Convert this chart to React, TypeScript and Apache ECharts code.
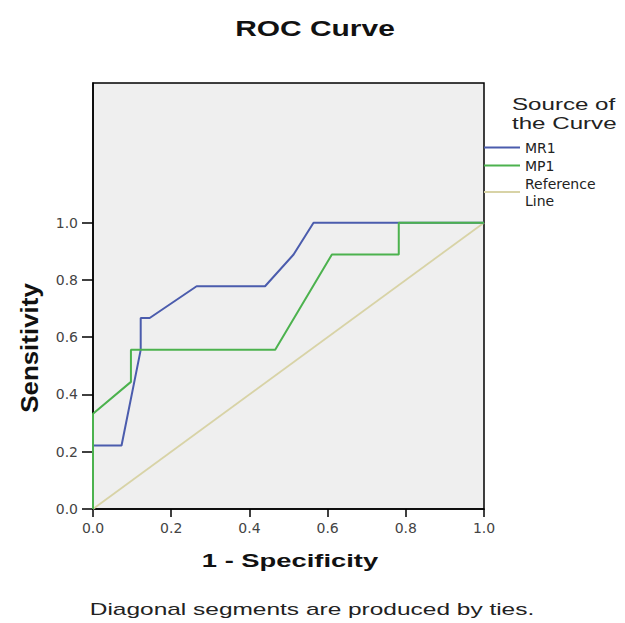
import React, { useEffect, useRef } from "react";
import * as echarts from "echarts";

// ---- data ----
const tickValues = [0, 0.2, 0.4, 0.6, 0.8, 1.0];
const seriesNames = ["MR1", "MP1", "Reference Line"];

const mr1X = [0, 0, 0.073, 0.122, 0.122, 0.145, 0.265, 0.44, 0.513, 0.564, 1];
const mr1Y = [0, 0.222, 0.222, 0.556, 0.667, 0.667, 0.778, 0.778, 0.889, 1, 1];

const mp1X = [0, 0, 0.097, 0.097, 0.466, 0.611, 0.782, 0.782, 1];
const mp1Y = [0, 0.333, 0.444, 0.556, 0.556, 0.889, 0.889, 1, 1];

const refX = [0, 1];
const refY = [0, 1];

const titleText = "ROC Curve";
const xTitle = "1 - Specificity";
const yTitle = "Sensitivity";
const legendTitle = "Source of\nthe Curve";
const footnote = "Diagonal segments are produced by ties.";

const pairs = (xs: number[], ys: number[]) => xs.map((x, i) => [x, ys[i]]);

const ARIAL = '"Liberation Sans", Arial, sans-serif';

export default function App() {
  const ref = useRef<HTMLDivElement>(null);

  useEffect(() => {
    if (!ref.current) return;
    const chart = echarts.init(ref.current, null, { renderer: "svg" });
    const colors = ["#d8d3a6", "#4b5cad", "#4cb24e"];
    chart.setOption({
      animation: false,
      backgroundColor: "#ffffff",
      grid: {
        left: 93,
        right: 141,
        top: 83,
        bottom: 114,
        show: true,
        backgroundColor: "#efefef",
        borderColor: "#000",
        borderWidth: 1.5,
        containLabel: false,
        outerBoundsMode: "none",
      },
      xAxis: {
        type: "value",
        min: 0,
        max: 1,
        interval: 0.2,
        axisLine: { show: true, lineStyle: { color: "#000", width: 1.5 } },
        axisTick: { show: true, length: 8, lineStyle: { color: "#000", width: 1.5 } },
        axisLabel: {
          margin: 12,
          color: "#444",
          fontFamily: '"DejaVu Sans", sans-serif',
          fontSize: 14,
          formatter: (v: number) => v.toFixed(1),
        },
        splitLine: { show: false },
      },
      yAxis: {
        type: "value",
        min: 0,
        max: 1.488,
        axisLine: { show: true, onZero: false, lineStyle: { color: "#000", width: 1.5 } },
        axisTick: {
          show: true,
          length: 11,
          customValues: tickValues,
          lineStyle: { color: "#000", width: 1.5 },
        },
        axisLabel: {
          margin: 15,
          color: "#444",
          fontFamily: '"DejaVu Sans", sans-serif',
          fontSize: 14,
          customValues: tickValues,
          formatter: (v: number) => v.toFixed(1),
        },
        splitLine: { show: false },
      },
      legend: {
        orient: "vertical",
        left: 484,
        top: 139,
        padding: 0,
        itemGap: 1,
        itemWidth: 36,
        itemHeight: 2,
        icon: "rect",
        selectedMode: false,
        data: [seriesNames[0], seriesNames[1], seriesNames[2]],
        formatter: (name: string) => (name === "Reference Line" ? "Reference\nLine" : name),
        textStyle: {
          fontFamily: '"DejaVu Sans", sans-serif',
          fontSize: 14,
          lineHeight: 17,
          color: "#222",
        },
      },
      series: [
        {
          name: seriesNames[2],
          type: "line",
          data: pairs(refX, refY),
          symbol: "none",
          clip: false,
          itemStyle: { color: colors[0] },
          lineStyle: { color: colors[0], width: 1.8 },
        },
        {
          name: seriesNames[0],
          type: "line",
          data: pairs(mr1X, mr1Y),
          symbol: "none",
          clip: false,
          itemStyle: { color: colors[1] },
          lineStyle: { color: colors[1], width: 2 },
        },
        {
          name: seriesNames[1],
          type: "line",
          data: pairs(mp1X, mp1Y),
          symbol: "none",
          clip: false,
          itemStyle: { color: colors[2] },
          lineStyle: { color: colors[2], width: 2 },
        },
      ],
      graphic: [
        {
          type: "text",
          x: 315,
          y: 28.7,
          scaleX: 1.36,
          style: {
            text: titleText,
            font: `bold 22px ${ARIAL}`,
            fill: "#111",
            align: "center",
            verticalAlign: "middle",
            textAlign: "center",
            textVerticalAlign: "middle",
          },
        },
        {
          type: "text",
          x: 290,
          y: 560.7,
          scaleX: 1.44,
          style: {
            text: xTitle,
            font: `bold 19px ${ARIAL}`,
            fill: "#111",
            align: "center",
            verticalAlign: "middle",
            textAlign: "center",
            textVerticalAlign: "middle",
          },
        },
        {
          type: "text",
          x: 29.5,
          y: 348,
          rotation: Math.PI / 2,
          scaleX: 1.08,
          style: {
            text: yTitle,
            font: `bold 24px ${ARIAL}`,
            fill: "#111",
            align: "center",
            verticalAlign: "middle",
            textAlign: "center",
            textVerticalAlign: "middle",
          },
        },
        {
          type: "text",
          x: 512,
          y: 94.5,
          scaleX: 1.42,
          style: {
            text: legendTitle,
            font: `17px ${ARIAL}`,
            lineHeight: 19,
            fill: "#222",
            align: "left",
            verticalAlign: "top",
            textAlign: "left",
            textVerticalAlign: "top",
          },
        },
        {
          type: "text",
          x: 312,
          y: 609,
          scaleX: 1.53,
          style: {
            text: footnote,
            font: `16px ${ARIAL}`,
            fill: "#222",
            align: "center",
            verticalAlign: "middle",
            textAlign: "center",
            textVerticalAlign: "middle",
          },
        },
      ],
    });
    return () => chart.dispose();
  }, []);

  return (
    <div
      ref={ref}
      style={{ position: "absolute", left: 0, top: 0, width: 625, height: 623 }}
    />
  );
}
